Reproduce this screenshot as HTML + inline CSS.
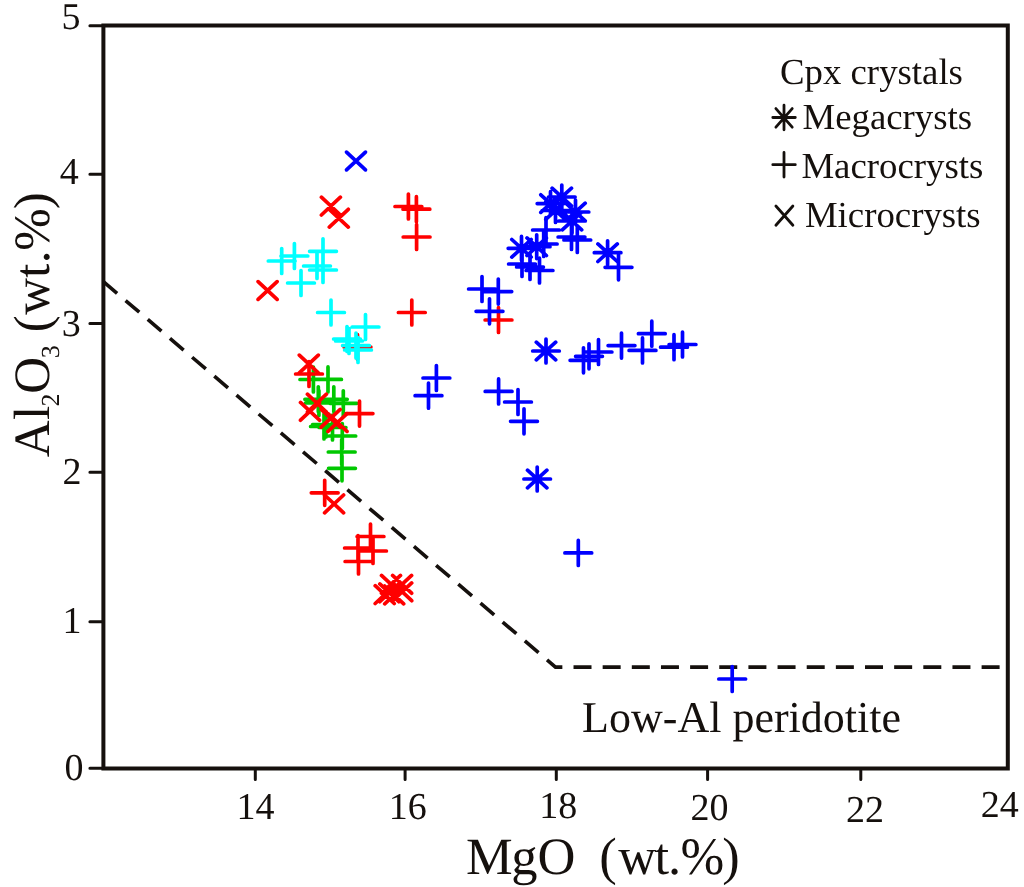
<!DOCTYPE html>
<html><head><meta charset="utf-8"><style>
html,body{margin:0;padding:0;background:#fff;}
svg{display:block;will-change:transform;}
text{font-family:"Liberation Serif",serif;fill:#15100d;text-rendering:geometricPrecision;}
</style></head><body>
<svg width="1024" height="887" viewBox="0 0 1024 887">
<rect x="0" y="0" width="1024" height="887" fill="#fff"/>
<g font-size="38">
<text x="80.5" y="29.0" text-anchor="end">5</text>
<text x="78.7" y="183.6" text-anchor="end">4</text>
<text x="80.7" y="336.2" text-anchor="end">3</text>
<text x="81.5" y="483.5" text-anchor="end">2</text>
<text x="81.4" y="633.1" text-anchor="end">1</text>
<text x="83.5" y="779.8" text-anchor="end">0</text>
<text x="255.6" y="819.4" text-anchor="middle">14</text>
<text x="407.8" y="819.0" text-anchor="middle">16</text>
<text x="558.2" y="818.1" text-anchor="middle">18</text>
<text x="709.5" y="819.6" text-anchor="middle">20</text>
<text x="865.0" y="822.2" text-anchor="middle">22</text>
<text x="999.8" y="817.0" text-anchor="middle">24</text>
</g>
<path d="M89.9 25.8H103.4M89.9 174.2H103.4M89.9 323.6H103.4M89.9 472.3H103.4M89.9 621.8H103.4M89.9 768.3H103.4M255.3 768.6V779.5M405.1 768.6V779.5M556.3 768.6V779.5M707.6 768.6V779.5M860.8 768.6V779.5" stroke="#15100d" stroke-width="3" fill="none" stroke-linecap="round"/>
<path d="M103.4 25.6H1007.8V768.6H103.4Z" stroke="#15100d" stroke-width="4" fill="none"/>
<path d="M103.4 281.6L555.5 667.1H1007.8" stroke="#15100d" stroke-width="3.6" fill="none" stroke-dasharray="18 11.15"/>
<g fill="none" stroke-width="3.7" stroke-linecap="round">
<path d="M300.0 379.5H326.8M313.4 367.0V392.0M314.6 379.4H341.4M328.0 366.9V391.9M304.9 399.3H331.7M318.3 386.8V411.8M305.5 403.0H332.3M318.9 390.5V415.5M320.4 399.3H347.2M333.8 386.8V411.8M329.9 403.3H356.7M343.3 390.8V415.8M312.6 424.5H339.4M326.0 412.0V437.0M310.6 426.5H337.4M324.0 414.0V439.0M319.1 427.5H345.9M332.5 415.0V440.0M328.9 436.0H355.7M342.3 423.5V448.5M328.3 452.0H355.1M341.7 439.5V464.5M328.6 468.3H355.4M342.0 455.8V480.8" stroke="#00c800"/>
<path d="M395.0 206.5H421.8M408.4 194.0V219.0M403.0 209.2H429.8M416.4 196.7V221.7M403.2 237.0H430.0M416.6 224.5V249.5M398.4 312.5H425.2M411.8 300.0V325.0M344.1 347.0H370.9M357.5 334.5V359.5M295.6 374.0H322.4M309.0 361.5V386.5M346.1 413.6H372.9M359.5 401.1V426.1M311.3 492.8H338.1M324.7 480.3V505.3M357.1 536.5H383.9M370.5 524.0V549.0M344.6 548.0H371.4M358.0 535.5V560.5M359.6 551.0H386.4M373.0 538.5V563.5M345.1 561.5H371.9M358.5 549.0V574.0M485.1 320.0H511.9M498.5 307.5V332.5" stroke="#ff0000"/>
<path d="M321.4 197.2L340.4 215.0M321.4 215.0L340.4 197.2M329.3 209.3L348.3 227.1M329.3 227.1L348.3 209.3M258.1 281.6L277.1 299.4M258.1 299.4L277.1 281.6M299.3 355.1L318.3 372.9M299.3 372.9L318.3 355.1M307.4 394.2L326.4 412.0M307.4 412.0L326.4 394.2M300.5 402.4L319.5 420.2M300.5 420.2L319.5 402.4M321.2 409.4L340.2 427.2M321.2 427.2L340.2 409.4M328.0 413.6L347.0 431.4M328.0 431.4L347.0 413.6M324.6 495.0L343.6 512.8M324.6 512.8L343.6 495.0M381.5 575.4L400.5 593.2M381.5 593.2L400.5 575.4M392.6 575.4L411.6 593.2M392.6 593.2L411.6 575.4M392.7 582.9L411.7 600.7M392.7 600.7L411.7 582.9M384.7 586.0L403.7 603.8M384.7 603.8L403.7 586.0M375.2 585.7L394.2 603.5M375.2 603.5L394.2 585.7M379.8 583.9L398.8 601.7M379.8 601.7L398.8 583.9" stroke="#ff0000"/>
<path d="M268.3 261.0H295.1M281.7 248.5V273.5M281.0 256.0H307.8M294.4 243.5V268.5M309.6 251.3H336.4M323.0 238.8V263.8M309.6 270.0H336.4M323.0 257.5V282.5M303.6 266.0H330.4M317.0 253.5V278.5M287.6 283.0H314.4M301.0 270.5V295.5M317.6 312.5H344.4M331.0 300.0V325.0M352.1 327.0H378.9M365.5 314.5V339.5M333.6 339.0H360.4M347.0 326.5V351.5M335.6 341.0H362.4M349.0 328.5V353.5M342.6 345.5H369.4M356.0 333.0V358.0M344.6 350.0H371.4M358.0 337.5V362.5" stroke="#00ffff"/>
<path d="M508.6 264.0H535.4M522.0 251.5V276.5M516.6 267.0H543.4M530.0 254.5V279.5M526.1 270.5H552.9M539.5 258.0V283.0M532.6 230.0H559.4M546.0 217.5V242.5M530.3 244.0H557.1M543.7 231.5V256.5M558.1 237.0H584.9M571.5 224.5V249.5M563.9 240.0H590.7M577.3 227.5V252.5M605.1 267.3H631.9M618.5 254.8V279.8M468.6 289.0H495.4M482.0 276.5V301.5M484.9 291.6H511.7M498.3 279.1V304.1M476.1 311.3H502.9M489.5 298.8V323.8M570.1 360.3H596.9M583.5 347.8V372.8M575.6 356.3H602.4M589.0 343.8V368.8M585.1 352.0H611.9M598.5 339.5V364.5M608.1 345.6H634.9M621.5 333.1V358.1M629.1 350.4H655.9M642.5 337.9V362.9M638.4 333.7H665.2M651.8 321.2V346.2M660.6 347.2H687.4M674.0 334.7V359.7M669.1 344.5H695.9M682.5 332.0V357.0M423.0 378.0H449.8M436.4 365.5V390.5M415.1 395.7H441.9M428.5 383.2V408.2M485.2 391.4H512.0M498.6 378.9V403.9M504.6 402.0H531.4M518.0 389.5V414.5M510.6 421.3H537.4M524.0 408.8V433.8M564.9 552.9H591.7M578.3 540.4V565.4M718.8 679.0H745.6M732.2 666.5V691.5" stroke="#0000ff"/>
<path d="M346.5 152.1L365.5 169.9M346.5 169.9L365.5 152.1" stroke="#0000ff"/>
<path d="M548.5 197.0H575.1M561.8 185.1V208.9M552.1 188.2L571.5 205.8M552.1 205.8L571.5 188.2M537.2 203.6H563.8M550.5 191.7V215.5M540.8 194.8L560.2 212.4M540.8 212.4L560.2 194.8M562.2 212.0H588.8M575.5 200.1V223.9M565.8 203.2L585.2 220.8M565.8 220.8L585.2 203.2M542.2 210.5H568.8M555.5 198.6V222.4M545.8 201.7L565.2 219.3M545.8 219.3L565.2 201.7M558.7 221.0H585.3M572.0 209.1V232.9M562.3 212.2L581.7 229.8M562.3 229.8L581.7 212.2M508.2 248.3H534.8M521.5 236.4V260.2M511.8 239.5L531.2 257.1M511.8 257.1L531.2 239.5M523.4 246.7H550.0M536.7 234.8V258.6M527.0 237.9L546.4 255.5M527.0 255.5L546.4 237.9M594.3 252.7H620.9M607.6 240.8V264.6M597.9 243.9L617.3 261.5M597.9 261.5L617.3 243.9M532.7 351.0H559.3M546.0 339.1V362.9M536.3 342.2L555.7 359.8M536.3 359.8L555.7 342.2M523.9 479.0H550.5M537.2 467.1V490.9M527.5 470.2L546.9 487.8M527.5 487.8L546.9 470.2" stroke="#0000ff"/>
</g>
<g font-size="44"><text x="582.1" y="732.2">Low-Al peridotite</text></g>
<text y="873.5" font-size="52.5"><tspan x="466.1">M</tspan><tspan x="511.2">g</tspan><tspan x="537.6">O</tspan><tspan x="599.3">(</tspan><tspan x="618.35">w</tspan><tspan x="654.4">t</tspan><tspan x="668.1">.</tspan><tspan x="680.4">%</tspan><tspan x="722.2">)</tspan></text>
<g transform="translate(48.5,457.8) rotate(-90)">
<text y="0" font-size="51"><tspan x="0.5">A</tspan><tspan x="37.9">l</tspan><tspan x="51.2" y="10.9" font-size="26">2</tspan><tspan x="64.1" y="0">O</tspan><tspan x="99.5" y="10.9" font-size="26">3</tspan><tspan x="125.6" y="0">(</tspan><tspan x="143.15">w</tspan><tspan x="180">t</tspan><tspan x="194.5">.</tspan><tspan x="207">%</tspan><tspan x="248.6">)</tspan></text>
</g>
<g font-size="36.8">
<text x="780.0" y="84.2">Cpx crystals</text>
<text x="802.5" y="129.3">Megacrysts</text>
<text x="801.4" y="178.0">Macrocrysts</text>
<text x="804.9" y="226.5">Microcrysts</text>
</g>
<g stroke="#15100d" stroke-width="2.8" fill="none" stroke-linecap="round">
<path d="M772.8 117.5H795.3M784 105.2V129.8M775.9 108.6L792.2 127.2M775.9 127.2L792.2 108.6"/>
<path d="M772.8 164.7H795.3M784 152.4V177"/>
<path d="M775.9 206L792.9 225.3M775.9 225.3L792.9 206"/>
</g>
</svg>
</body></html>
